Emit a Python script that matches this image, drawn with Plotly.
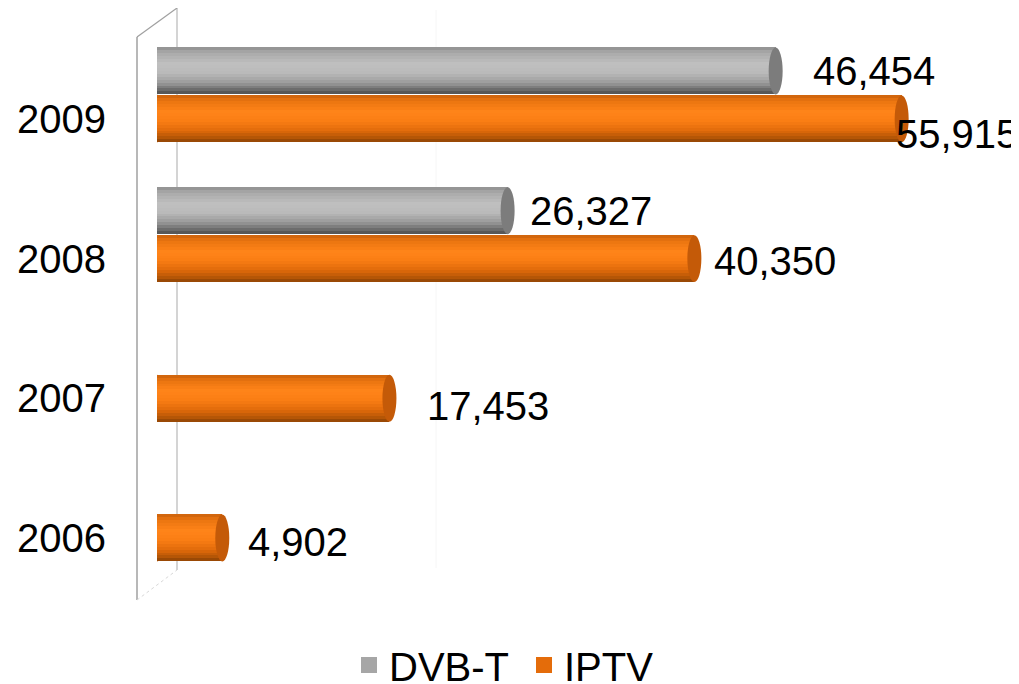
import plotly.graph_objects as go

# ---- data ----
years = ["2006", "2007", "2008", "2009"]
dvbt = [None, None, 26327, 46454]
iptv = [4902, 17453, 40350, 55915]
series_names = ["DVB-T", "IPTV"]

# ---- style ----
OFF = 8  # page body margin of the html page
W, H = 1019 - OFF, 684 - OFF
ML, MR, MT, MB = 157 - OFF, 11, 0, 84
X_MAX = 63900
Y_RANGE = [-0.444, 3.794]
BAR_H = 0.336
GROUP_SHIFT = 0.343
N_BANDS = 16
FONT = "Liberation Sans, Arial, sans-serif"

gray_stops = [(0, "#8E8E8E"), (0.12, "#AAAAAA"), (0.35, "#C0C0C0"), (0.55, "#B9B9B9"),
              (0.75, "#9A9A9A"), (0.9, "#6E6E6E"), (1, "#4E4E4E")]
orange_stops = [(0, "#C9610C"), (0.12, "#EA7410"), (0.35, "#FF8419"), (0.55, "#FA7D14"),
                (0.75, "#E06A0A"), (0.9, "#B85706"), (1, "#8C4304")]
face_colors = ["#7C7C7C", "#C45A08"]
body_colors = ["#A6A6A6", "#E46C0A"]
legend_colors = ["#A6A6A6", "#E46C0A"]

label_shift = {  # (series, category) -> (xshift, yshift) in px
    (0, 2): (20, 0), (0, 3): (35, 0),
    (1, 0): (24, -4), (1, 1): (36, -8), (1, 2): (18, -2), (1, 3): (-8, -15),
}


def hex2rgb(h):
    h = h.lstrip("#")
    return tuple(int(h[i:i + 2], 16) for i in (0, 2, 4))


def grad(stops, t):
    for (t0, c0), (t1, c1) in zip(stops, stops[1:]):
        if t0 <= t <= t1:
            a, b = hex2rgb(c0), hex2rgb(c1)
            f = (t - t0) / (t1 - t0) if t1 > t0 else 0
            r = [round(a[i] + (b[i] - a[i]) * f) for i in range(3)]
            return "rgb(%d,%d,%d)" % tuple(r)
    return stops[-1][1]


fig = go.Figure()
cat_pos = list(range(len(years)))
all_series = [dvbt, iptv]
stops_all = [gray_stops, orange_stops]
centers_all = [[p + GROUP_SHIFT for p in cat_pos], cat_pos]

bh = BAR_H / N_BANDS
for s, vals in enumerate(all_series):
    for k in range(N_BANDS):
        t = (k + 0.5) / N_BANDS
        fig.add_trace(go.Bar(
            orientation="h", y=centers_all[s], x=vals, base=0,
            width=bh * 1.04, offset=BAR_H / 2 - (k + 1) * bh,
            marker=dict(color=grad(stops_all[s], t), line=dict(width=0)),
            showlegend=False, hoverinfo="skip",
        ))

# legend entries
for s, name in enumerate(series_names):
    fig.add_trace(go.Scatter(
        x=[None], y=[None], mode="markers", name=name,
        marker=dict(symbol="square", size=20, color=legend_colors[s]),
    ))

shapes = []
annotations = []
cap = 7 * X_MAX / (W - ML - MR)
for s, vals in enumerate(all_series):
    for i, v in enumerate(vals):
        if v is None:
            continue
        yc = centers_all[s][i]
        shapes.append(dict(type="circle", xref="x", yref="y", layer="below",
                           x0=-cap, x1=cap, y0=yc - BAR_H / 2, y1=yc + BAR_H / 2,
                           fillcolor=body_colors[s], line=dict(width=0)))
        shapes.append(dict(type="circle", xref="x", yref="y", layer="above",
                           x0=v - cap, x1=v + cap, y0=yc - BAR_H / 2, y1=yc + BAR_H / 2,
                           fillcolor=face_colors[s], line=dict(width=0)))
        xs, ys = label_shift.get((s, i), (20, 0))
        annotations.append(dict(x=v, y=yc, xref="x", yref="y", text=f"{v:,}",
                                showarrow=False, xanchor="left", yanchor="middle",
                                xshift=xs, yshift=ys,
                                font=dict(family=FONT, size=40, color="#000000")))

# 3D wall outline (decoration, in paper coords; args are reference-screen pixels)
pw, ph = W - ML - MR, H - MT - MB


def px(x):
    return (x - OFF - ML) / pw


def py(y):
    return (H - MB - (y - OFF)) / ph


wall = "#A0A0A0"
shapes += [
    dict(type="line", xref="paper", yref="paper", layer="below",
         x0=px(137), y0=py(37), x1=px(137), y1=py(600), line=dict(color=wall, width=1.5)),
    dict(type="line", xref="paper", yref="paper", layer="below",
         x0=px(177), y0=py(8), x1=px(177), y1=py(570), line=dict(color="#B8B8B8", width=1.2)),
    dict(type="line", xref="paper", yref="paper", layer="below",
         x0=px(137), y0=py(37), x1=px(177), y1=py(8), line=dict(color=wall, width=1.2)),
    dict(type="line", xref="paper", yref="paper", layer="below",
         x0=px(137), y0=py(600), x1=px(177), y1=py(570), line=dict(color="#D8D8D8", width=1, dash="dot")),
    dict(type="line", xref="paper", yref="paper", layer="below",
         x0=px(436), y0=py(10), x1=px(436), y1=py(568), line=dict(color="#F6F6F6", width=1)),
]

fig.update_layout(
    width=W, height=H,
    margin=dict(l=ML, r=MR, t=MT, b=MB, autoexpand=False),
    paper_bgcolor="white", plot_bgcolor="white",
    barmode="overlay", bargap=0,
    shapes=shapes, annotations=annotations,
    showlegend=True,
    legend=dict(orientation="h", x=px(349), xanchor="left", y=py(665), yanchor="middle",
                font=dict(family=FONT, size=40, color="#000000"),
                entrywidth=130, entrywidthmode="pixels",
                bgcolor="rgba(0,0,0,0)", itemsizing="trace"),
    xaxis=dict(range=[0, X_MAX], showgrid=False, zeroline=False, showticklabels=False,
               showline=False, ticks="", automargin=False),
    yaxis=dict(range=Y_RANGE, tickvals=cat_pos, ticktext=years, showgrid=False,
               zeroline=False, showline=False, ticks="", ticklabelstandoff=50,
               automargin=False,
               tickfont=dict(family=FONT, size=40, color="#000000")),
)

fig.write_html("out.html")
